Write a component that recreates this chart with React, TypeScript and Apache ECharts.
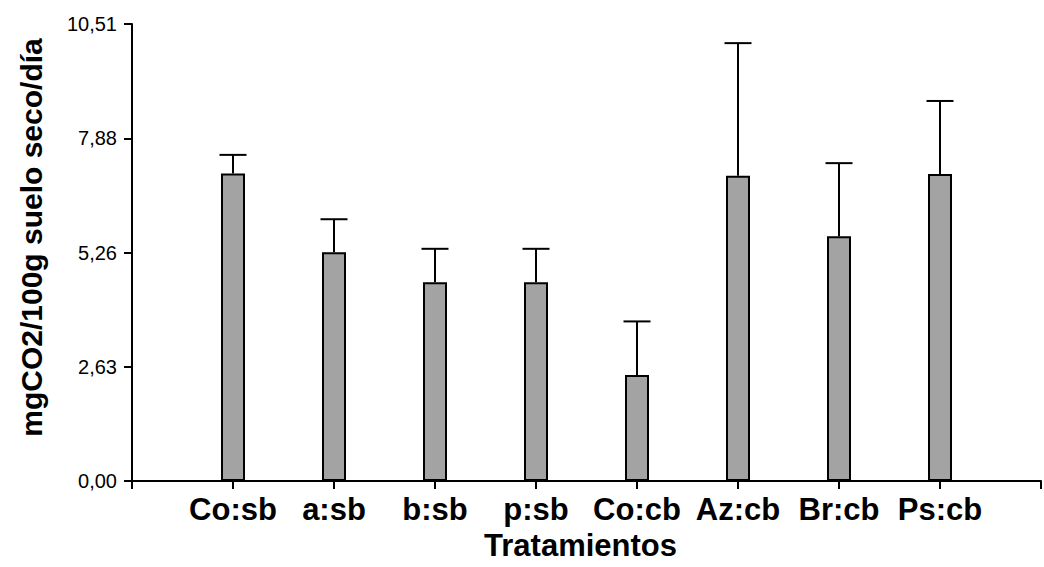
import React, { useEffect, useRef } from "react";
import * as echarts from "echarts";

const categories = ["Co:sb", "a:sb", "b:sb", "p:sb", "Co:cb", "Az:cb", "Br:cb", "Ps:cb"];
const means = [7.07, 5.26, 4.57, 4.57, 2.44, 7.02, 5.63, 7.06];
const errors = [0.43, 0.76, 0.77, 0.77, 1.23, 3.05, 1.68, 1.68];
const yMax = 10.51;
const yTickLabels = ["0,00", "2,63", "5,26", "7,88", "10,51"];

const FONT = "'Liberation Sans', Arial, Helvetica, sans-serif";

export default function App() {
  const ref = useRef<HTMLDivElement>(null);
  useEffect(() => {
    document.body.style.margin = "0";
    if (!ref.current) return;
    const chart = echarts.init(ref.current, undefined, { renderer: "svg" });
    const interval = yMax / (yTickLabels.length - 1);
    const axisData = ["", ...categories, ""];
    const barData = [null, ...means, null];
    const errData = categories.map((_, i) => [i + 1, means[i], errors[i]]);
    chart.setOption({
      animation: false,
      backgroundColor: "#ffffff",
      grid: { left: 132, top: 24, bottom: 86, right: -8 },
      xAxis: {
        type: "category",
        data: axisData,
        boundaryGap: false,
        axisLine: { show: true, lineStyle: { color: "#000", width: 2 } },
        axisTick: { show: true, length: 8, lineStyle: { color: "#000", width: 2 } },
        axisLabel: {
          show: true,
          interval: 0,
          margin: 13,
          color: "#000",
          fontFamily: FONT,
          fontWeight: "bold",
          fontSize: 31,
        },
        splitLine: { show: false },
        name: "Tratamientos",
        nameLocation: "middle",
        nameGap: 46,
        nameTextStyle: {
          color: "#000",
          fontFamily: FONT,
          fontWeight: "bold",
          fontSize: 31,
          padding: [0, 12, 0, 0],
        },
      },
      yAxis: {
        type: "value",
        min: 0,
        max: yMax,
        interval: interval,
        axisLine: { show: true, lineStyle: { color: "#000", width: 2 } },
        axisTick: { show: true, length: 8, lineStyle: { color: "#000", width: 2 } },
        axisLabel: {
          margin: 15,
          color: "#000",
          fontFamily: FONT,
          fontSize: 20,
          formatter: (v: number) => yTickLabels[Math.round(v / interval)] ?? "",
        },
        splitLine: { show: false },
        name: "mgCO2/100g suelo seco/día",
        nameLocation: "middle",
        nameGap: 86,
        nameTextStyle: {
          color: "#000",
          fontFamily: FONT,
          fontWeight: "bold",
          fontSize: 30,
          padding: [0, 0, 0, 30],
        },
      },
      series: [
        {
          type: "bar",
          data: barData,
          barWidth: 24,
          itemStyle: { color: "#a3a3a3", borderColor: "#000", borderWidth: 2 },
          z: 2,
        },
        {
          type: "custom",
          data: errData,
          z: 3,
          renderItem: (params: any, api: any) => {
            const x = api.value(0);
            const m = api.value(1);
            const e = api.value(2);
            const base = api.coord([x, m]);
            const top = api.coord([x, m + e]);
            const hw = 13.5;
            return {
              type: "group",
              children: [
                {
                  type: "line",
                  shape: { x1: base[0], y1: base[1], x2: top[0], y2: top[1] },
                  style: { stroke: "#000", lineWidth: 2 },
                },
                {
                  type: "line",
                  shape: { x1: top[0] - hw, y1: top[1], x2: top[0] + hw, y2: top[1] },
                  style: { stroke: "#000", lineWidth: 2 },
                },
              ],
            };
          },
        },
      ],
    });
    return () => chart.dispose();
  }, []);
  return <div ref={ref} style={{ width: 1044, height: 567 }} />;
}
